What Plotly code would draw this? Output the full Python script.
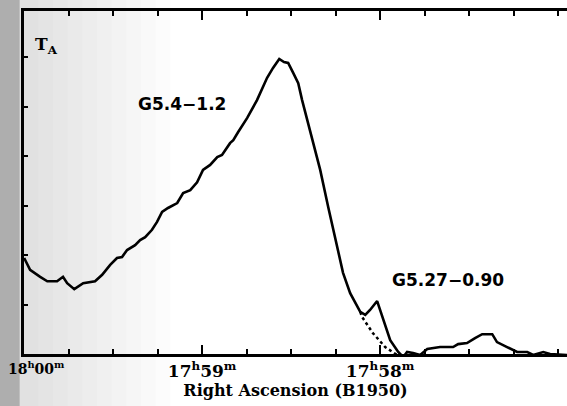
import plotly.graph_objects as go

# Right ascension offset west of 18h00m00s (seconds of time, B1950) and antenna temperature (arb. units)
ra_offset_s = [0.0, 2.0, 5.4, 7.8, 11.1, 13.1, 14.5, 16.9, 19.9, 23.9, 26.3, 29.0, 31.3, 33.0, 34.7,
               37.4, 39.1, 40.8, 43.1, 44.8, 46.5, 48.5, 51.6, 53.6, 56.0, 58.3, 60.3, 62.7, 65.1,
               66.7, 69.4, 70.5, 72.1, 75.2, 78.5, 81.9, 83.9, 85.3, 86.0, 87.6, 89.0, 90.7, 92.4,
               93.7, 96.4, 99.8, 102.5, 105.5, 107.5, 109.9, 111.9, 113.3, 115.0, 116.6, 119.0,
               121.0, 123.4, 126.1, 127.8, 129.1, 131.1, 133.5, 135.9, 140.2, 144.6, 146.3, 149.3,
               152.0, 154.4, 157.8, 159.4, 162.8, 166.2, 169.6, 171.6, 175.0, 177.3, 183.0]
t_a = [1.94, 1.70, 1.56, 1.47, 1.47, 1.56, 1.43, 1.31, 1.43, 1.47, 1.60, 1.80, 1.94, 1.96, 2.10,
       2.20, 2.30, 2.36, 2.51, 2.67, 2.87, 2.95, 3.05, 3.25, 3.31, 3.47, 3.72, 3.82, 3.98,
       4.02, 4.26, 4.32, 4.48, 4.77, 5.13, 5.58, 5.78, 5.90, 5.96, 5.90, 5.88, 5.68, 5.47,
       5.13, 4.53, 3.72, 2.97, 2.16, 1.64, 1.23, 0.99, 0.85, 0.79, 0.89, 1.07,
       0.69, 0.28, 0.04, -0.06, 0.04, 0.02, -0.02, 0.10, 0.14, 0.14, 0.20, 0.22,
       0.32, 0.40, 0.40, 0.24, 0.14, 0.04, 0.04, -0.02, 0.04, 0.00, -0.02]

# Dotted extrapolation of the G5.4-1.2 wing under G5.27-0.90
ra_dotted_s = [113.3, 113.9, 117.6, 121.7, 125.7]
t_dotted = [0.85, 0.75, 0.42, 0.14, -0.02]

tick_vals = [0, 60, 120]
tick_text = ["18<sup>h</sup>00<sup>m</sup>", "17<sup>h</sup>59<sup>m</sup>", "17<sup>h</sup>58<sup>m</sup>"]
y_ticks = [1, 2, 3, 4, 5, 6]

fig = go.Figure()
fig.add_trace(go.Scatter(x=ra_dotted_s, y=t_dotted, mode="lines",
                         line=dict(color="black", width=2.5, dash="dot"), showlegend=False))
fig.add_trace(go.Scatter(x=ra_offset_s, y=t_a, mode="lines",
                         line=dict(color="black", width=2.6), showlegend=False))

# scanned-page shading near the book spine
shapes = [dict(type="rect", xref="paper", yref="paper", x0=-0.0442, x1=-0.008, y0=-0.16, y1=1.04,
               fillcolor="black", opacity=0.2, line=dict(width=0), layer="below")]
for i in range(10):
    xe = 0.027 * (i + 1)
    shapes.append(dict(type="rect", xref="paper", yref="paper", x0=-0.0442, x1=xe, y0=-0.16, y1=1.04,
                       fillcolor="black", opacity=0.012, line=dict(width=0), layer="below"))

tick_font = dict(family="DejaVu Serif", size=17, color="black", weight="bold")

fig.update_layout(
    width=567, height=406,
    margin=dict(l=24, r=0, t=11, b=52, autoexpand=False),
    paper_bgcolor="white", plot_bgcolor="rgba(0,0,0,0)",
    shapes=shapes,
    xaxis=dict(range=[-0.05, 183.0], showgrid=False, zeroline=False, automargin=False,
               showline=True, linecolor="black", linewidth=2.5, mirror="ticks",
               tickvals=tick_vals, ticktext=[""] + tick_text[1:], ticks="inside", ticklen=9, tickwidth=2,
               tickcolor="black",
               minor=dict(dtick=15, tick0=0, ticks="inside", ticklen=5, tickwidth=2, tickcolor="black"),
               tickfont=tick_font,
               title=dict(text="Right Ascension (B1950)", standoff=4,
                          font=dict(family="DejaVu Serif", size=16, color="black", weight="bold"))),
    yaxis=dict(range=[0, 6.93], showgrid=False, zeroline=False, automargin=False,
               showline=True, linecolor="black", linewidth=2.5, mirror=False,
               tickvals=y_ticks, ticktext=[""] * len(y_ticks), ticks="inside", ticklen=4,
               tickwidth=2, tickcolor="black"),
    annotations=[
        # first tick label placed as annotation so it stays inside the page
        dict(text=tick_text[0], xref="x", yref="paper", x=tick_vals[0], y=0, showarrow=False,
             xanchor="left", yanchor="middle", xshift=-18, yshift=-14,
             font=dict(family="DejaVu Serif", size=14, color="black", weight="bold")),
        dict(text="T<sub>A</sub>", xref="paper", yref="paper", x=0.041, y=0.90, showarrow=False,
             xanchor="center", yanchor="middle",
             font=dict(family="DejaVu Serif", size=17, color="black", weight="bold")),
        dict(text="G5.4\u22121.2", xref="paper", yref="paper", x=0.291, y=0.728, showarrow=False,
             xanchor="center", yanchor="middle",
             font=dict(family="DejaVu Sans", size=17, color="black", weight="bold")),
        dict(text="G5.27\u22120.90", xref="paper", yref="paper", x=0.781, y=0.216, showarrow=False,
             xanchor="center", yanchor="middle",
             font=dict(family="DejaVu Sans", size=17, color="black", weight="bold")),
    ],
)

fig.write_html("out.html")
